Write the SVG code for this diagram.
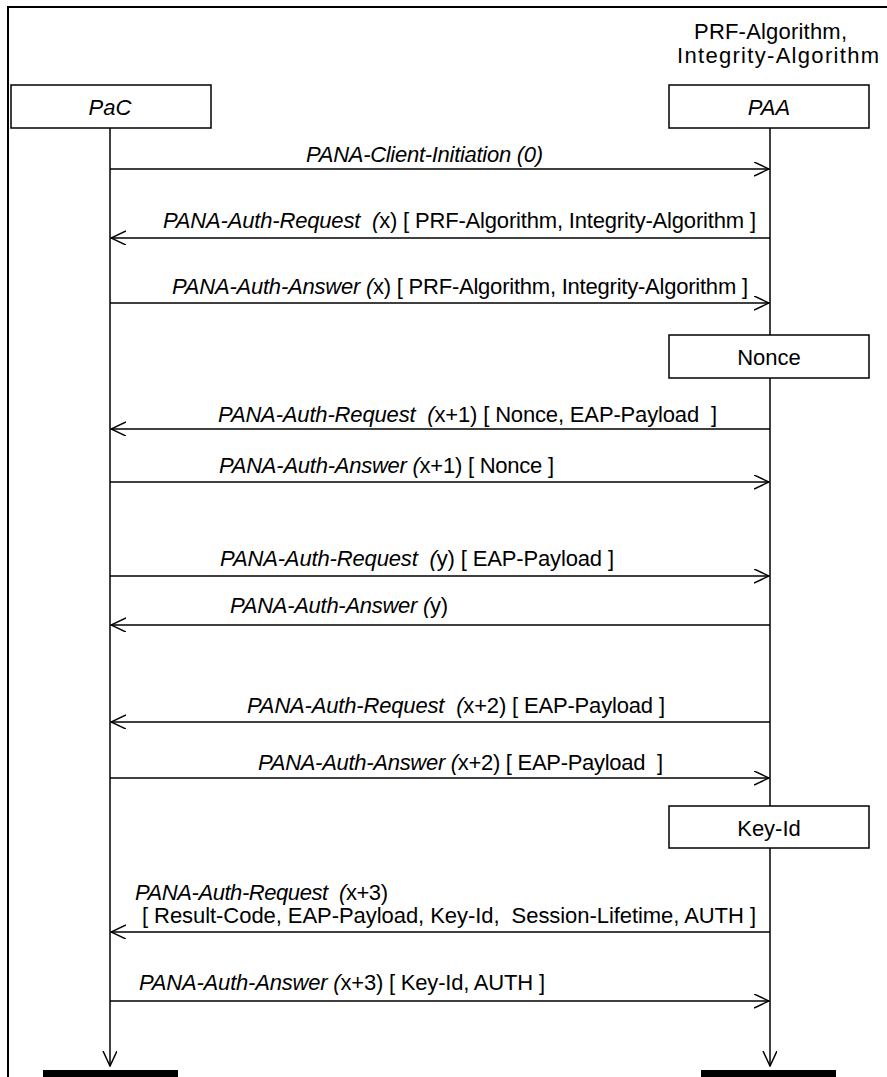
<svg xmlns="http://www.w3.org/2000/svg" width="887" height="1077" viewBox="0 0 887 1077">
<style>
  text { font-family: "Liberation Sans", Arial, sans-serif; font-size: 22px; fill: #000; white-space: pre; }
  .it { font-style: italic; }
  .ctr { text-anchor: middle; }
  .box { fill: #fff; stroke: #000; stroke-width: 1.5; }
  .ln { stroke: #000; stroke-width: 1.5; fill: none; }
  .frame { stroke: #000; stroke-width: 2; fill: none; }
</style>
<defs>
  <marker id="arr" viewBox="0 0 16 16" refX="15" refY="7" markerWidth="16" markerHeight="16" markerUnits="userSpaceOnUse" orient="auto">
    <path d="M0,0 L15,7 L0,14" fill="none" stroke="#000" stroke-width="1.5"/>
  </marker>
</defs>
<rect width="887" height="1077" fill="#fff"/>
<g id="frame">
  <path class="frame" d="M8,1077 L8,7 L887,7"/>
</g>
<g id="lifelines">
  <line class="ln" x1="110" y1="128" x2="110" y2="1066" marker-end="url(#arr)"/>
  <line class="ln" x1="770" y1="128" x2="770" y2="1066" marker-end="url(#arr)"/>
</g>
<g id="PaC">
  <rect class="box" x="11" y="85" width="200" height="43"/>
  <text class="it ctr" x="110" y="115">PaC</text>
</g>
<g id="PAA">
  <text x="694" y="39" textLength="153" lengthAdjust="spacing">PRF-Algorithm,</text>
  <text x="677" y="63" textLength="202" lengthAdjust="spacing">Integrity-Algorithm</text>
  <rect class="box" x="669" y="85" width="200" height="43"/>
  <text class="it ctr" x="769" y="115">PAA</text>
</g>
<g id="Nonce">
  <rect class="box" x="669" y="335" width="200" height="43"/>
  <text class="ctr" x="769" y="365">Nonce</text>
</g>
<g id="KeyId">
  <rect class="box" x="669" y="806" width="200" height="42"/>
  <text class="ctr" x="769" y="836">Key-Id</text>
</g>
<g id="bars">
  <rect x="43" y="1070" width="135" height="7" fill="#000"/>
  <rect x="701" y="1070" width="135" height="7" fill="#000"/>
</g>
<g id="connectors">
  <line class="ln" x1="110" y1="169" x2="769" y2="169" marker-end="url(#arr)"/>
  <line class="ln" x1="770" y1="238" x2="111" y2="238" marker-end="url(#arr)"/>
  <line class="ln" x1="110" y1="303" x2="769" y2="303" marker-end="url(#arr)"/>
  <line class="ln" x1="770" y1="429" x2="111" y2="429" marker-end="url(#arr)"/>
  <line class="ln" x1="110" y1="482" x2="769" y2="482" marker-end="url(#arr)"/>
  <line class="ln" x1="110" y1="576" x2="769" y2="576" marker-end="url(#arr)"/>
  <line class="ln" x1="770" y1="625" x2="111" y2="625" marker-end="url(#arr)"/>
  <line class="ln" x1="770" y1="722" x2="111" y2="722" marker-end="url(#arr)"/>
  <line class="ln" x1="110" y1="778" x2="769" y2="778" marker-end="url(#arr)"/>
  <line class="ln" x1="770" y1="932" x2="111" y2="932" marker-end="url(#arr)"/>
  <line class="ln" x1="110" y1="1001" x2="769" y2="1001" marker-end="url(#arr)"/>
</g>
<g id="labels">
  <text class="it" x="306" y="162" textLength="237" lengthAdjust="spacing">PANA-Client-Initiation (0)</text>
  <text x="163" y="228" textLength="593" lengthAdjust="spacing"><tspan class="it">PANA-Auth-Request  (</tspan>x) [ PRF-Algorithm, Integrity-Algorithm ]</text>
  <text x="172" y="294" textLength="576" lengthAdjust="spacing"><tspan class="it">PANA-Auth-Answer (</tspan>x) [ PRF-Algorithm, Integrity-Algorithm ]</text>
  <text x="218" y="422" textLength="499" lengthAdjust="spacing"><tspan class="it">PANA-Auth-Request  (</tspan>x+1) [ Nonce, EAP-Payload  ]</text>
  <text x="219" y="473" textLength="335" lengthAdjust="spacing"><tspan class="it">PANA-Auth-Answer (</tspan>x+1) [ Nonce ]</text>
  <text x="220" y="566" textLength="394" lengthAdjust="spacing"><tspan class="it">PANA-Auth-Request  (</tspan>y) [ EAP-Payload ]</text>
  <text x="230" y="613" textLength="218" lengthAdjust="spacing"><tspan class="it">PANA-Auth-Answer (</tspan>y)</text>
  <text x="247" y="713" textLength="418" lengthAdjust="spacing"><tspan class="it">PANA-Auth-Request  (</tspan>x+2) [ EAP-Payload ]</text>
  <text x="258" y="770" textLength="405" lengthAdjust="spacing"><tspan class="it">PANA-Auth-Answer (</tspan>x+2) [ EAP-Payload  ]</text>
  <text x="135" y="900" textLength="253" lengthAdjust="spacing"><tspan class="it">PANA-Auth-Request  (</tspan>x+3)</text>
  <text x="142" y="923" textLength="614" lengthAdjust="spacing">[ Result-Code, EAP-Payload, Key-Id,  Session-Lifetime, AUTH ]</text>
  <text x="139" y="990" textLength="406" lengthAdjust="spacing"><tspan class="it">PANA-Auth-Answer (</tspan>x+3) [ Key-Id, AUTH ]</text>
</g>
</svg>
